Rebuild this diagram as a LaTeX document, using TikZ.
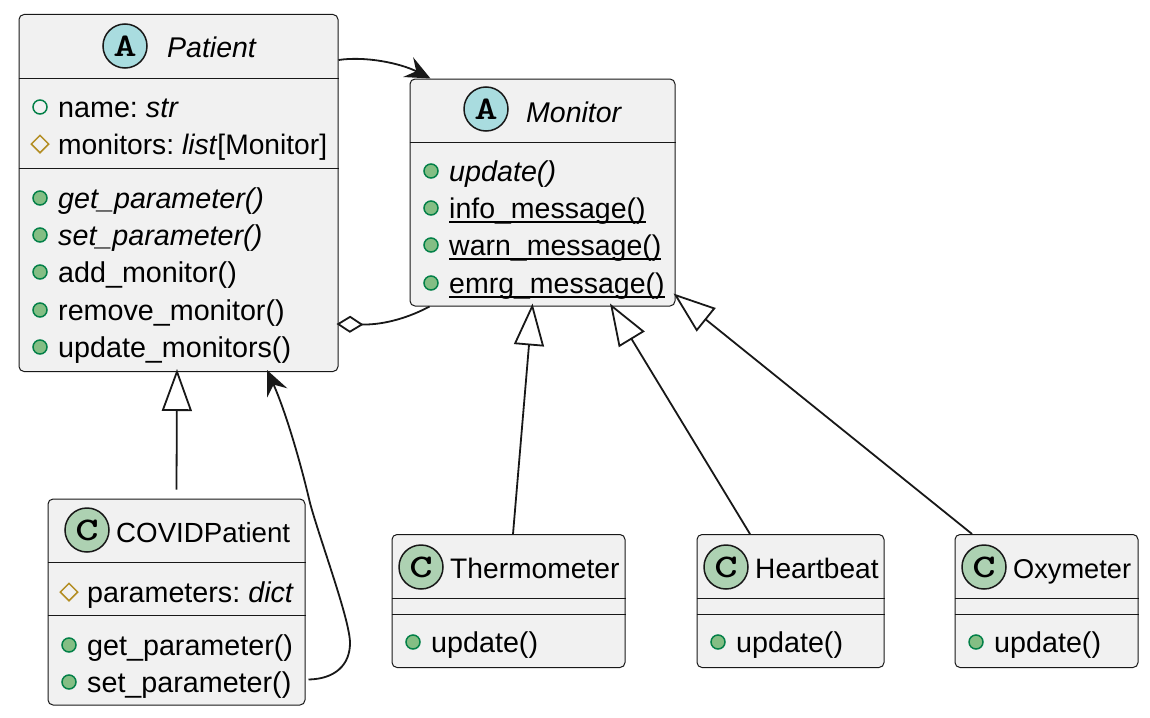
\documentclass[tikz,border=0pt]{standalone}
\usepackage{fontspec}
\setmainfont{Liberation Sans}
\usetikzlibrary{arrows.meta,shapes.geometric}
\definecolor{boxfill}{HTML}{F1F1F1}
\definecolor{ink}{HTML}{181818}
\definecolor{absc}{HTML}{A9DCDF}
\definecolor{clsc}{HTML}{ADD1B2}
\definecolor{pubfill}{HTML}{84BE84}
\definecolor{publine}{HTML}{038048}
\definecolor{protline}{HTML}{B38D22}
\tikzset{
  box/.style={draw=ink,fill=boxfill,line width=1pt,rounded corners=5pt,inner sep=0pt,anchor=north west},
  sepline/.style={draw=ink,line width=1pt},
  rowtext/.style={font=\fontsize{28.7}{32}\selectfont\frenchspacing,anchor=base west,inner sep=0pt,text=black},
  titletext/.style={font=\fontsize{28.5}{32}\selectfont,anchor=base west,inner sep=0pt,text=black},
  badge/.style={circle,draw=ink,line width=1.5pt,minimum size=44pt,inner sep=0pt,font=\fontsize{33}{33}\selectfont\ttfamily\bfseries},
  pubmark/.style={circle,draw=publine,fill=pubfill,line width=1.5pt,minimum size=14pt,inner sep=0pt},
  openmark/.style={circle,draw=publine,line width=1.5pt,minimum size=14pt,inner sep=0pt},
  protmark/.style={diamond,draw=protline,line width=1.5pt,minimum width=18pt,minimum height=18pt,inner sep=0pt,aspect=1},
  conn/.style={draw=ink,line width=1.8pt},
  ext/.style={conn,-{Triangle[open,fill=white,length=42pt,width=30pt,line width=1.8pt]}},
  nav/.style={conn,-{Stealth[length=25pt,width=22pt,inset=9pt,color=ink]}},
  agg/.style={conn,-{Diamond[open,fill=white,length=27pt,width=17pt,line width=1.8pt]}},
}
\newcommand{\pubrow}[5]{\node[#1] (#2m) at (#3-18,#4-9) {};\node[rowtext] (#2) at (#3,#4+1) {#5};}
\newcommand{\wideglyph}[1]{\scalebox{1.35}[1]{#1}}
\newsavebox{\ulbox}
\newcommand{\ulined}[1]{\sbox{\ulbox}{\fontsize{28.5}{32}\selectfont #1}\rlap{\rule[-4.6pt]{\wd\ulbox}{1.7pt}}\usebox{\ulbox}}
\begin{document}
\begin{tikzpicture}[x=1pt,y=-1pt]
\useasboundingbox (0,0) rectangle (1150,717);
% boxes
\node[box,minimum width=319pt,minimum height=357pt] (patient) at (18.5,14) {};
\node[box,minimum width=265pt,minimum height=227pt] (monitor) at (409.5,78.5) {};
\node[box,minimum width=257pt,minimum height=206pt] (covid) at (47.5,498.5) {};
\node[box,minimum width=233pt,minimum height=133pt] (thermo) at (391.5,534) {};
\node[box,minimum width=187pt,minimum height=133pt] (heart) at (696.5,534) {};
\node[box,minimum width=183pt,minimum height=133pt] (oxy) at (954.5,534) {};
% separators
\draw[sepline] (patient.west |- 0,78) -- (patient.east |- 0,78);
\draw[sepline] (patient.west |- 0,168) -- (patient.east |- 0,168);
\draw[sepline] (monitor.west |- 0,142) -- (monitor.east |- 0,142);
\draw[sepline] (covid.west |- 0,562) -- (covid.east |- 0,562);
\draw[sepline] (covid.west |- 0,615) -- (covid.east |- 0,615);
\foreach \b in {thermo,heart,oxy}{
  \draw[sepline] (\b.west |- 0,598) -- (\b.east |- 0,598);
  \draw[sepline] (\b.west |- 0,614) -- (\b.east |- 0,614);
}
% badges and titles
\node[badge,fill=absc] (badgeP) at (125,46) {\wideglyph{A}};
\node[titletext] (titleP) at (167,58) {\itshape Patient};
\node[badge,fill=absc] (badgeM) at (486,109) {\wideglyph{A}};
\node[titletext] (titleM) at (526,122) {\itshape Monitor};
\node[badge,fill=clsc] (badgeC) at (87,530) {\wideglyph{C}};
\node[titletext,font=\fontsize{27.7}{32}\selectfont] (titleC) at (116,542) {COVIDPatient};
\node[badge,fill=clsc] (badgeT) at (421,567) {\wideglyph{C}};
\node[titletext,font=\fontsize{28.2}{32}\selectfont] (titleT) at (450,578) {Thermometer};
\node[badge,fill=clsc] (badgeH) at (726,567) {\wideglyph{C}};
\node[titletext,font=\fontsize{28.1}{32}\selectfont] (titleH) at (755,578) {Heartbeat};
\node[badge,fill=clsc] (badgeO) at (984,567) {\wideglyph{C}};
\node[titletext,font=\fontsize{27.2}{32}\selectfont] (titleO) at (1013,578) {Oxymeter};
% Patient rows
\pubrow{openmark}{pName}{58}{116}{name: \textit{str}}
\pubrow{protmark}{pMon}{58}{153}{\fontsize{28.2}{32}\selectfont monitors: \textit{list}[Monitor]}
\pubrow{pubmark}{pGet}{58}{207}{\textit{get\_parameter()}}
\pubrow{pubmark}{pSet}{58}{244}{\textit{set\_parameter()}}
\pubrow{pubmark}{pAdd}{58}{281}{add\_monitor()}
\pubrow{pubmark}{pRem}{58}{319}{remove\_monitor()}
\pubrow{pubmark}{pUpd}{58}{356}{update\_monitors()}
% Monitor rows
\pubrow{pubmark}{mUpd}{449}{180}{\textit{update()}}
\pubrow{pubmark}{mInf}{449}{217}{\ulined{info\_message()}}
\pubrow{pubmark}{mWar}{449}{254}{\ulined{warn\_message()}}
\pubrow{pubmark}{mEmr}{449}{292}{\ulined{emrg\_message()}}
% COVID rows
\pubrow{protmark}{cPar}{87}{601}{parameters: \textit{dict}}
\pubrow{pubmark}{cGet}{87}{654}{get\_parameter()}
\pubrow{pubmark}{cSet}{87}{691}{set\_parameter()}
% leaf rows
\pubrow{pubmark}{tUpd}{431}{651}{update()}
\pubrow{pubmark}{hUpd}{736}{651}{update()}
\pubrow{pubmark}{oUpd}{994}{651}{update()}
% connectors
\draw[ext] ([yshift=9pt]covid.north) -- ([xshift=-1.5pt,yshift=3pt]patient.south);
\draw[ext] ([xshift=4.5pt]thermo.north) -- ([xshift=-10pt,yshift=3pt]monitor.south);
\draw[ext] ([xshift=-40.5pt]heart.north) -- ([xshift=67.5pt,yshift=3pt]monitor.south);
\draw[ext] ([xshift=-74.5pt]oxy.north) -- ([xshift=-2pt,yshift=13pt]monitor.south east);
\draw[nav] ([yshift=-46pt]patient.north east) .. controls (365,56) and (400,63) .. ([xshift=21pt]monitor.north west);
\draw[agg] ([xshift=20pt]monitor.south west) .. controls (410,317) and (385,325) .. ([xshift=-2pt,yshift=48pt]patient.south east);
\draw[nav] ([xshift=3pt,yshift=26pt]covid.south east) .. controls (335,679) and (350,665) .. (350,643)
  .. controls (350,620) and (320,540) .. (310,503)
  .. controls (300,460) and (285,410) .. ([xshift=88.5pt,yshift=2pt]patient.south);
\end{tikzpicture}
\end{document}
